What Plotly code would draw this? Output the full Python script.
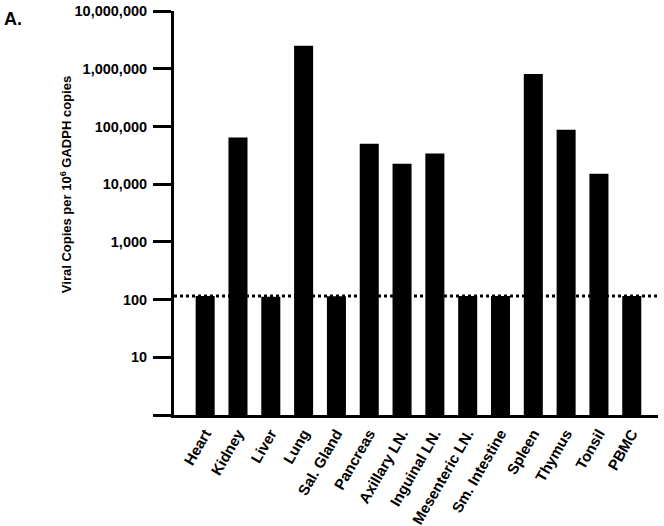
import plotly.graph_objects as go

# tissue viral loads (copies per 10^6 GADPH copies)
tissues = ['Heart', 'Kidney', 'Liver', 'Lung', 'Sal. Gland', 'Pancreas', 'Axillary LN.',
           'Inguinal LN.', 'Mesenteric LN.', 'Sm. Intestine', 'Spleen', 'Thymus', 'Tonsil', 'PBMC']
viral_copies = [115, 64000, 112, 2500000, 114, 50000, 22600,
                34000, 115, 115, 810000, 88000, 15200, 115]
detection_limit = 115

tick_vals = [1, 10, 100, 1000, 10000, 100000, 1000000, 10000000]
tick_text = ['', '10', '100', '1,000', '10,000', '100,000', '1,000,000', '10,000,000']

font_main = 'Arial, Liberation Sans, sans-serif'

fig = go.Figure()
fig.add_trace(go.Bar(x=tissues, y=viral_copies, marker=dict(color='black', line=dict(width=0)),
                     showlegend=False))

# limit of detection
fig.add_shape(type='line', xref='paper', x0=0, x1=1, yref='y', y0=detection_limit, y1=detection_limit,
              line=dict(color='black', width=3, dash='dot'), layer='below')

fig.update_layout(
    width=664, height=526,
    margin=dict(l=174, r=6, t=11, b=111, autoexpand=False),
    plot_bgcolor='white', paper_bgcolor='white',
    bargap=0.42,
    font=dict(family=font_main, color='black'),
    xaxis=dict(range=[-0.95, 13.8], showline=True, linecolor='black', linewidth=3,
               ticks='', tickangle=-60, showgrid=False, zeroline=False, automargin=False,
               tickfont=dict(size=15, family=font_main, weight='bold'),
               ticklabelstandoff=1),
    yaxis=dict(type='log', range=[0, 7], showline=True, linecolor='black', linewidth=3,
               ticks='outside', ticklen=18, tickwidth=3, tickcolor='black', automargin=False,
               tickvals=tick_vals, ticktext=tick_text, showgrid=False, zeroline=False,
               tickfont=dict(size=14.5, family=font_main, weight='bold'),
               ticklabelstandoff=3),
)

fig.add_annotation(text='Viral Copies per 10<sup>6</sup> GADPH copies', xref='paper', yref='paper',
                   x=-0.245, y=0.57, textangle=-90, showarrow=False,
                   font=dict(size=13, family=font_main, weight='bold'))

fig.add_annotation(text='A.', xref='paper', yref='paper', x=-0.355, y=1.01,
                   xanchor='left', yanchor='top', showarrow=False,
                   font=dict(size=18, family=font_main, weight='bold'))

# page body has a default margin; drop it so the figure fills the window
fig.write_html('out.html', config={'displayModeBar': False},
               post_script="document.body.style.margin='0px';")
